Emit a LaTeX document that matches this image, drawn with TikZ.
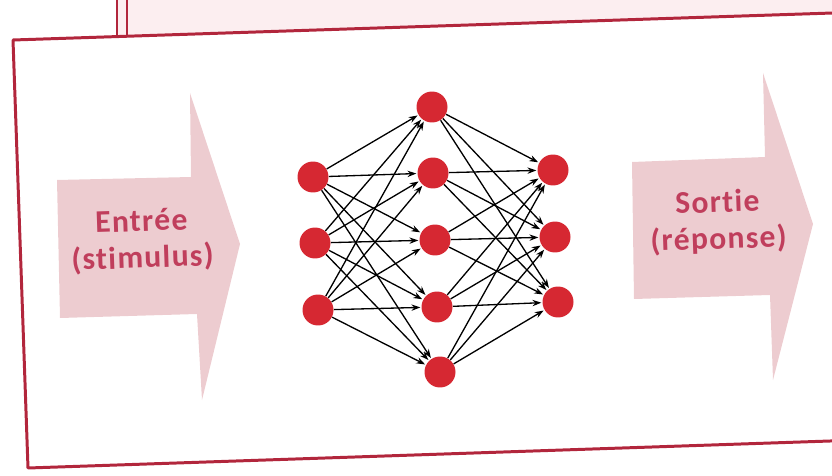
\documentclass[tikz,border=0pt]{standalone}
\usepackage{fontspec}
\setmainfont{Carlito}
\newfontfamily\rotulofont{Carlito}[Ligatures=NoCommon, LetterSpace=4]
\usetikzlibrary{arrows.meta}
\definecolor{marco}{RGB}{178,38,60}
\definecolor{rosaclaro}{RGB}{252,238,240}
\definecolor{flecha}{RGB}{237,204,208}
\definecolor{texto}{RGB}{192,62,92}
\definecolor{rojo}{RGB}{214,40,50}
\begin{document}
\begin{tikzpicture}[x=0.02cm, y=-0.02cm,
    neurona/.style={circle, fill=rojo, minimum size=0.62cm, inner sep=0pt},
    enlace/.style={-{Stealth[length=5pt, width=3.6pt]}, line width=0.75pt, shorten >=0.5pt},
    rotulo/.style={texto, align=center, rotate=1.9, font=\rotulofont\bfseries\fontsize{18}{21}\selectfont}]
    \useasboundingbox (0,0) rectangle (832,476);

    % Recuadro superior
    \fill[rosaclaro] (117,0) -- (840,0) -- (840,12.7) -- (117,36.5) -- cycle;
    \draw[marco, line width=0.6pt] (117,0) -- (117,36.5);
    \draw[marco, line width=0.6pt] (127,0) -- (127,36.2);

    % Marco principal
    \draw[marco, line width=1.7pt, line join=round]
         (13,40) -- (845,12.6) -- (845,440.5) -- (28,468) -- cycle;

    % Flecha de entrada
    \fill[flecha] (57,180) -- (191,177) -- (190,93) -- (240,244)
         -- (202,400) -- (197,314) -- (60,318) -- cycle;
    \node[rotulo] (entree) at (142,241) {Entrée\\(stimulus)};

    % Flecha de salida
    \fill[flecha] (632,162) -- (765,157) -- (763,73) -- (813,224)
         -- (773,380) -- (770,295) -- (634,299) -- cycle;
    \node[rotulo] (sortie) at (718,222) {Sortie\\(réponse)};

    % Capa de entrada
    \node[neurona] (e1) at (313,177) {};
    \node[neurona] (e2) at (315,243) {};
    \node[neurona] (e3) at (318,310) {};

    % Capa oculta
    \node[neurona] (o1) at (432,107) {};
    \node[neurona] (o2) at (433,173) {};
    \node[neurona] (o3) at (435,240) {};
    \node[neurona] (o4) at (437,307) {};
    \node[neurona] (o5) at (440,372) {};

    % Capa de salida
    \node[neurona] (s1) at (553,170) {};
    \node[neurona] (s2) at (555,237) {};
    \node[neurona] (s3) at (558,302) {};

    % Conexiones
    \foreach \i in {1,2,3}
      \foreach \j in {1,...,5} {
        \draw[enlace] (e\i) -- (o\j);
        \draw[enlace] (o\j) -- (s\i);
      }
\end{tikzpicture}
\end{document}
